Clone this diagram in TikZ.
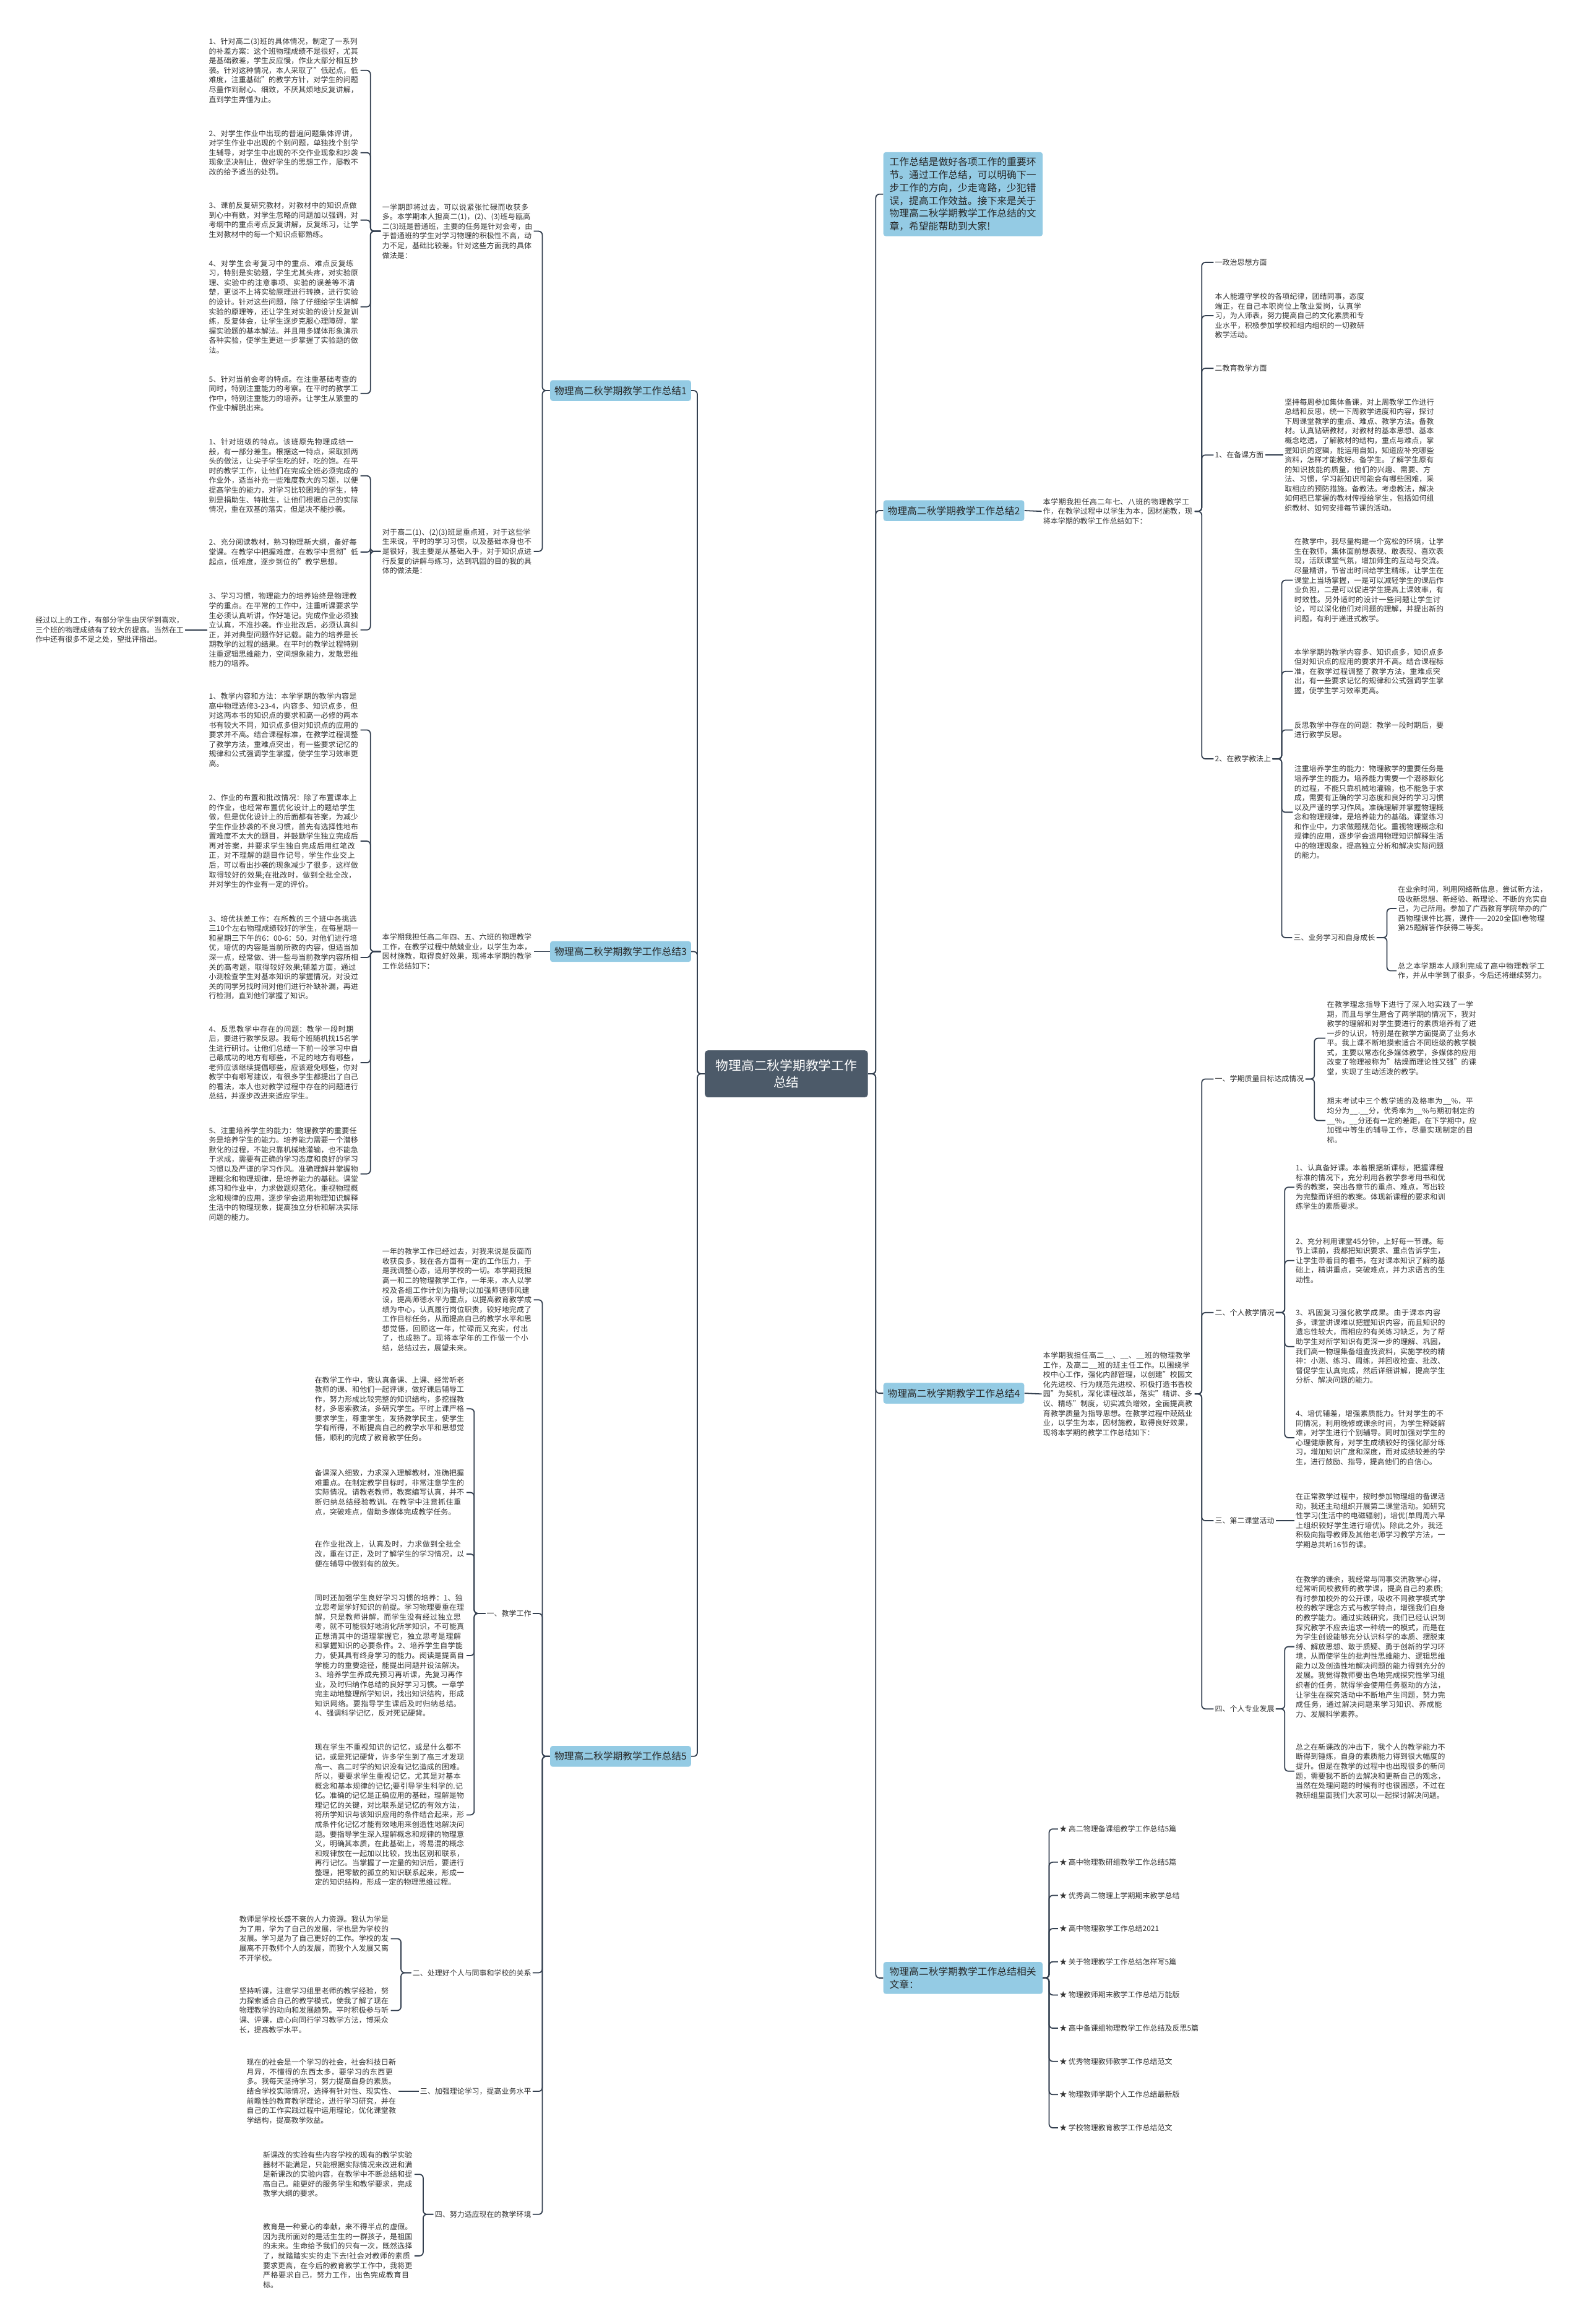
\documentclass[tikz,border=0pt]{standalone}
\usepackage{fontspec}
\setmainfont{Noto Sans CJK SC}
\XeTeXlinebreaklocale "zh"
\XeTeXlinebreakskip = 0pt plus 1pt
\definecolor{linec}{RGB}{52,64,80}
\definecolor{textc}{RGB}{51,51,51}
\definecolor{branchc}{RGB}{148,203,228}
\definecolor{rootc}{RGB}{76,90,105}
\tikzset{
  conn/.style={draw=linec, line width=0.9pt, rounded corners=3pt},
  txt/.style={inner xsep=1pt, inner ysep=1pt, text width=121.5pt, align=left, text=textc, font=\fontsize{6}{7.8}\selectfont},
  lbl/.style={inner sep=1pt, text=textc, font=\fontsize{6}{7.8}\selectfont},
  branch/.style={fill=branchc, rounded corners=2pt, inner xsep=3.5pt, inner ysep=2pt, minimum height=16.8pt, text=black!85, font=\fontsize{7.9}{10.5}\selectfont},
  bigbranch/.style={branch, text width=119pt, align=left, inner xsep=5pt, inner ysep=4pt},
  root/.style={fill=rootc, rounded corners=2.5pt, minimum width=132pt, minimum height=38pt, align=center, text=white, font=\fontsize{10.4}{13.3}\selectfont}
}
\begin{document}
\begin{tikzpicture}[x=1.2pt,y=-1.2pt]
  \fill[white] (0,0) rectangle (1069,1568);
  \useasboundingbox (0,0) rectangle (1069,1568);

  \node[root] (root) at (530.7,724.5) {物理高二秋学期教学工作\\总结};

  \node[branch, anchor=east] (b1) at (466.5,263.5) {物理高二秋学期教学工作总结1};
  \node[branch, anchor=east] (b3) at (466.5,642) {物理高二秋学期教学工作总结3};
  \node[branch, anchor=east] (b5) at (466.5,1185) {物理高二秋学期教学工作总结5};
  \node[bigbranch, anchor=west] (intro) at (596,131) {工作总结是做好各项工作的重要环节。通过工作总结，可以明确下一步工作的方向，少走弯路，少犯错误，提高工作效益。接下来是关于物理高二秋学期教学工作总结的文章，希望能帮助到大家!};
  \node[branch, anchor=west] (b2) at (596,344.5) {物理高二秋学期教学工作总结2};
  \node[branch, anchor=west] (b4) at (596,940) {物理高二秋学期教学工作总结4};
  \node[bigbranch, anchor=west] (rel) at (596,1334.5) {物理高二秋学期教学工作总结相关文章：};

  \coordinate (lt) at (470.6,0);
  \coordinate (rt) at (591,0);
  \foreach \n in {b1,b3,b5}
    \draw[conn] (root.west) -- (root.west -| lt) |- (\n.east);
  \foreach \n in {intro,b2,b4,rel}
    \draw[conn] (root.east) -- (root.east -| rt) |- (\n.west);

  \node[txt, anchor=west] (s1a) at (257,156) {一学期即将过去，可以说紧张忙碌而收获多多。本学期本人担高二(1)，(2)、(3)班与瓯高二(3)班是普通班，主要的任务是针对会考，由于普通班的学生对学习物理的积极性不高，动力不足，基础比较差。针对这些方面我的具体做法是：};
  \node[txt, anchor=west] (s1b) at (257,372) {对于高二(1)、(2)(3)班是重点班，对于这些学生来说，平时的学习习惯，以及基础本身也不是很好，我主要是从基础入手，对于知识点进行反复的讲解与练习，达到巩固的目的我的具体的做法是：};
  \node[txt, anchor=west] (s1a1) at (140,47.5) {1、针对高二(3)班的具体情况，制定了一系列的补差方案：这个班物理成绩不是很好，尤其是基础教差，学生反应慢，作业大部分相互抄袭。针对这种情况，本人采取了"低起点，低难度，注重基础"的教学方针，对学生的问题尽量作到耐心、细致，不厌其烦地反复讲解，直到学生弄懂为止。};
  \node[txt, anchor=west] (s1a2) at (140,103) {2、对学生作业中出现的普遍问题集体评讲，对学生作业中出现的个别问题，单独找个别学生辅导，对学生中出现的不交作业现象和抄袭现象坚决制止，做好学生的思想工作，屡教不改的给予适当的处罚。};
  \node[txt, anchor=west] (s1a3) at (140,148.5) {3、课前反复研究教材，对教材中的知识点做到心中有数，对学生忽略的问题加以强调，对考纲中的重点考点反复讲解，反复练习，让学生对教材中的每一个知识点都熟练。};
  \node[txt, anchor=west] (s1a4) at (140,207) {4、对学生会考复习中的重点、难点反复练习，特别是实验题，学生尤其头疼，对实验原理、实验中的注意事项、实验的误差等不清楚，更谈不上将实验原理进行转换，进行实验的设计。针对这些问题，除了仔细给学生讲解实验的原理等，还让学生对实验的设计反复训练，反复体会，让学生逐步克服心理障碍，掌握实验题的基本解法。并且用多媒体形象演示各种实验，使学生更进一步掌握了实验题的做法。};
  \node[txt, anchor=west] (s1a5) at (140,265.5) {5、针对当前会考的特点。在注重基础考查的同时，特别注重能力的考察。在平时的教学工作中，特别注重能力的培养。让学生从繁重的作业中解脱出来。};
  \node[txt, anchor=west] (s1b1) at (140,321) {1、针对班级的特点。该班原先物理成绩一般，有一部分差生。根据这一特点，采取抓两头的做法，让尖子学生吃的好，吃的饱。在平时的教学工作，让他们在完成全班必须完成的作业外，适当补充一些难度教大的习题，以便提高学生的能力，对学习比较困难的学生，特别是捐助生、特批生，让他们根据自己的实际情况，重在双基的落实，但是决不能抄袭。};
  \node[txt, anchor=west] (s1b2) at (140,372.5) {2、充分阅读教材，熟习物理新大纲，备好每堂课。在教学中把握难度，在教学中贯彻"低起点，低难度，逐步到位的"教学思想。};
  \node[txt, anchor=west] (s1b3) at (140,425) {3、学习习惯，物理能力的培养始终是物理教学的重点。在平常的工作中，注重听课要求学生必须认真听讲，作好笔记。完成作业必须独立认真，不准抄袭。作业批改后，必须认真纠正，并对典型问题作好记载。能力的培养是长期教学的过程的结果。在平时的教学过程特别注重逻辑思维能力，空间想象能力，发散思维能力的培养。};
  \node[txt, anchor=east, text width=120pt] (s1c) at ([xshift=-18pt]s1b3.west) {经过以上的工作，有部分学生由厌学到喜欢，三个班的物理成绩有了较大的提高。当然在工作中还有很多不足之处，望批评指出。};

  \coordinate (k1) at (366,0);
  \coordinate (k1a) at (250,0);
  \foreach \n in {s1a,s1b}
    \draw[conn] (b1.west) -- (b1.west -| k1) |- (\n.east);
  \foreach \n in {s1a1,s1a2,s1a3,s1a4,s1a5}
    \draw[conn] (s1a.west) -- (s1a.west -| k1a) |- (\n.east);
  \foreach \n in {s1b1,s1b2,s1b3}
    \draw[conn] (s1b.west) -- (s1b.west -| k1a) |- (\n.east);
  \draw[conn] (s1b3.west) -- (s1c.east);

  \node[txt, anchor=west] (s3) at (257,642) {本学期我担任高二年四、五、六班的物理教学工作，在教学过程中兢兢业业，以学生为本，因材施教，取得良好效果，现将本学期的教学工作总结如下：};
  \node[txt, anchor=west] (s3c1) at (140,492.5) {1、教学内容和方法：本学学期的教学内容是高中物理选修3-23-4，内容多、知识点多，但对这两本书的知识点的要求和高一必修的两本书有较大不同，知识点多但对知识点的应用的要求并不高。结合课程标准，在教学过程调整了教学方法，重难点突出，有一些要求记忆的规律和公式强调学生掌握，使学生学习效率更高。};
  \node[txt, anchor=west] (s3c2) at (140,567.5) {2、作业的布置和批改情况：除了布置课本上的作业，也经常布置优化设计上的题给学生做，但是优化设计上的后面都有答案，为减少学生作业抄袭的不良习惯，首先有选择性地布置难度不太大的题目，并鼓励学生独立完成后再对答案，并要求学生独自完成后用红笔改正，对不理解的题目作记号，学生作业交上后，可以看出抄袭的现象减少了很多，这样做取得较好的效果;在批改时，做到全批全改，并对学生的作业有一定的评价。};
  \node[txt, anchor=west] (s3c3) at (140,646) {3、培优扶差工作：在所教的三个班中各挑选三10个左右物理成绩较好的学生，在每星期一和星期三下午的6：00-6：50，对他们进行培优，培优的内容是当前所教的内容，但适当加深一点，经常做、讲一些与当前教学内容所相关的高考题，取得较好效果;辅差方面，通过小测检查学生对基本知识的掌握情况，对没过关的同学另找时间对他们进行补缺补漏，再进行检测，直到他们掌握了知识。};
  \node[txt, anchor=west] (s3c4) at (140,717) {4、反思教学中存在的问题：教学一段时期后，要进行教学反思。我每个班随机找15名学生进行研讨。让他们总结一下前一段学习中自己最成功的地方有哪些，不足的地方有哪些，老师应该继续提倡哪些，应该避免哪些，你对教学中有哪写建议，有很多学生都提出了自己的看法，本人也对教学过程中存在的问题进行总结，并逐步改进来适应学生。};
  \node[txt, anchor=west] (s3c5) at (140,792) {5、注重培养学生的能力：物理教学的重要任务是培养学生的能力。培养能力需要一个潜移默化的过程，不能只靠机械地灌输，也不能急于求成，需要有正确的学习态度和良好的学习习惯以及严谨的学习作风。准确理解并掌握物理概念和物理规律，是培养能力的基础。课堂练习和作业中，力求做题规范化。重视物理概念和规律的应用，逐步学会运用物理知识解释生活中的物理现象，提高独立分析和解决实际问题的能力。};
  \draw[conn] (b3.west) -- (s3.east);
  \foreach \n in {s3c1,s3c2,s3c3,s3c4,s3c5}
    \draw[conn] (s3.west) -- (s3.west -| k1a) |- (\n.east);

  \node[txt, anchor=west] (s5a) at (257,877) {一年的教学工作已经过去，对我来说是反面而收获良多，我在各方面有一定的工作压力，于是我调整心态，适用学校的一切。本学期我担高一和二的物理教学工作，一年来，本人以学校及各组工作计划为指导;以加强师德师风建设，提高师德水平为重点，以提高教育教学成绩为中心，认真履行岗位职责，较好地完成了工作目标任务，从而提高自己的教学水平和思想觉悟，回顾这一年，忙碌而又充实，付出了，也成熟了。现将本学年的工作做一个小结，总结过去，展望未来。};
  \node[lbl, anchor=east] (s5b) at (359.5,1088.6) {一、教学工作};
  \node[lbl, anchor=east] (s5c) at (359.5,1331) {二、处理好个人与同事和学校的关系};
  \node[lbl, anchor=east] (s5d) at (359.5,1411) {三、加强理论学习，提高业务水平};
  \node[lbl, anchor=east] (s5e) at (359.5,1494) {四、努力适应现在的教学环境};
  \node[txt, anchor=west] (t1) at (211.5,950.5) {在教学工作中，我认真备课、上课、经常听老教师的课、和他们一起评课，做好课后辅导工作，努力形成比较完整的知识结构，多挖掘教材，多思索教法，多研究学生。平时上课严格要求学生，尊重学生，发扬教学民主，使学生学有所得，不断提高自己的教学水平和思想觉悟，顺利的完成了教育教学任务。};
  \node[txt, anchor=west] (t2) at (211.5,1007) {备课深入细致，力求深入理解教材，准确把握难重点。在制定教学目标时，非常注意学生的实际情况。请教老教师，教案编写认真，并不断归纳总结经验教训。在教学中注意抓住重点，突破难点，借助多媒体完成教学任务。};
  \node[txt, anchor=west] (t3) at (211.5,1048.5) {在作业批改上，认真及时，力求做到全批全改，重在订正，及时了解学生的学习情况，以便在辅导中做到有的放矢。};
  \node[txt, anchor=west] (t4) at (211.5,1117) {同时还加强学生良好学习习惯的培养：1、独立思考是学好知识的前提。学习物理要重在理解，只是教师讲解，而学生没有经过独立思考，就不可能很好地消化所学知识，不可能真正想清其中的道理掌握它，独立思考是理解和掌握知识的必要条件。2、培养学生自学能力，使其具有终身学习的能力。阅读是提高自学能力的重要途径，能提出问题并设法解决。3、培养学生养成先预习再听课，先复习再作业，及时归纳作总结的良好学习习惯。一章学完主动地整理所学知识，找出知识结构，形成知识网络。要指导学生课后及时归纳总结。4、强调科学记忆，反对死记硬背。};
  \node[txt, anchor=west] (t5) at (211.5,1224.5) {现在学生不重视知识的记忆，或是什么都不记，或是死记硬背，许多学生到了高三才发现高一、高二时学的知识没有记忆造成的困难。所以，要要求学生重视记忆，尤其是对基本概念和基本规律的记忆;要引导学生科学的.记忆。准确的记忆是正确应用的基础，理解是物理记忆的关键，对比联系是记忆的有效方法，将所学知识与该知识应用的条件结合起来，形成条件化记忆才能有效地用来创造性地解决问题。要指导学生深入理解概念和规律的物理意义，明确其本质，在此基础上，将易混的概念和规律放在一起加以比较，找出区别和联系，再行记忆。当掌握了一定量的知识后，要进行整理，把零散的孤立的知识联系起来，形成一定的知识结构，形成一定的物理思维过程。};
  \node[txt, anchor=west] (u1) at (160.5,1308) {教师是学校长盛不衰的人力资源。我认为学是为了用，学为了自己的发展，学也是为学校的发展。学习是为了自己更好的工作。学校的发展离不开教师个人的发展，而我个人发展又离不开学校。};
  \node[txt, anchor=west] (u2) at (160.5,1356.5) {坚持听课，注意学习组里老师的教学经验，努力探索适合自己的教学模式，使我了解了现在物理教学的动向和发展趋势。平时积极参与听课、评课，虚心向同行学习教学方法，博采众长，提高教学水平。};
  \node[txt, anchor=west] (v1) at (165.5,1411) {现在的社会是一个学习的社会，社会科技日新月异，不懂得的东西太多，要学习的东西更多。我每天坚持学习，努力提高自身的素质。结合学校实际情况，选择有针对性、现实性、前瞻性的教育教学理论，进行学习研究，并在自己的工作实践过程中运用理论，优化课堂教学结构，提高教学效益。};
  \node[txt, anchor=west] (w1) at (176.5,1467) {新课改的实验有些内容学校的现有的教学实验器材不能满足，只能根据实际情况来改进和满足新课改的实验内容，在教学中不断总结和提高自己。能更好的服务学生和教学要求，完成教学大纲的要求。};
  \node[txt, anchor=west] (w2) at (176.5,1522) {教育是一种爱心的奉献，来不得半点的虚假。因为我所面对的是活生生的一群孩子，是祖国的未来。生命给予我们的只有一次，既然选择了，就踏踏实实的走下去!社会对教师的素质要求更高，在今后的教育教学工作中，我将更严格要求自己，努力工作，出色完成教育目标。};

  \coordinate (k5b) at (320,0);
  \coordinate (k5c) at (270.6,0);
  \coordinate (k5e) at (285.6,0);
  \foreach \n in {s5a,s5b,s5c,s5d,s5e}
    \draw[conn] (b5.west) -- (b5.west -| k1) |- (\n.east);
  \foreach \n in {t1,t2,t3,t4,t5}
    \draw[conn] (s5b.west) -- (s5b.west -| k5b) |- (\n.east);
  \foreach \n in {u1,u2}
    \draw[conn] (s5c.west) -- (s5c.west -| k5c) |- (\n.east);
  \draw[conn] (s5d.west) -- (v1.east);
  \foreach \n in {w1,w2}
    \draw[conn] (s5e.west) -- (s5e.west -| k5e) |- (\n.east);

  \node[txt, anchor=west] (s2) at (703,345) {本学期我担任高二年七、八班的物理教学工作，在教学过程中以学生为本，因材施教，现将本学期的教学工作总结如下：};
  \node[lbl, anchor=west] (p1) at (819,177) {一政治思想方面};
  \node[txt, anchor=west] (p2) at (819,213) {本人能遵守学校的各项纪律，团结同事，态度端正，在自己本职岗位上敬业爱岗，认真学习，为人师表，努力提高自己的文化素质和专业水平，积极参加学校和组内组织的一切教研教学活动。};
  \node[lbl, anchor=west] (p3) at (819,248.5) {二教育教学方面};
  \node[lbl, anchor=west] (p4) at (819,307) {1、在备课方面};
  \node[lbl, anchor=west] (p5) at (819,512) {2、在教学教法上};
  \node[txt, anchor=west] (x1) at (866,307) {坚持每周参加集体备课，对上周教学工作进行总结和反思，统一下周教学进度和内容，探讨下周课堂教学的重点、难点、教学方法。备教材。认真钻研教材，对教材的基本思想、基本概念吃透，了解教材的结构，重点与难点，掌握知识的逻辑，能运用自如，知道应补充哪些资料，怎样才能教好。备学生。了解学生原有的知识技能的质量，他们的兴趣、需要、方法、习惯，学习新知识可能会有哪些困难，采取相应的预防措施。备教法。考虑教法，解决如何把已掌握的教材传授给学生，包括如何组织教材、如何安排每节课的活动。};
  \node[txt, anchor=west] (q1) at (872.5,391.5) {在教学中，我尽量构建一个宽松的环境，让学生在教师，集体面前想表现、敢表现、喜欢表现，活跃课堂气氛，增加师生的互动与交流。尽量精讲，节省出时间给学生精练，让学生在课堂上当场掌握，一是可以减轻学生的课后作业负担，二是可以促进学生提高上课效率，有时效性。另外适时的设计一些问题让学生讨论，可以深化他们对问题的理解，并提出新的问题，有利于递进式教学。};
  \node[txt, anchor=west] (q2) at (872.5,453) {本学学期的教学内容多、知识点多，知识点多但对知识点的应用的要求并不高。结合课程标准，在教学过程调整了教学方法，重难点突出，有一些要求记忆的规律和公式强调学生掌握，使学生学习效率更高。};
  \node[txt, anchor=west] (q3) at (872.5,492.5) {反思教学中存在的问题：教学一段时期后，要进行教学反思。};
  \node[txt, anchor=west] (q4) at (872.5,548) {注重培养学生的能力：物理教学的重要任务是培养学生的能力。培养能力需要一个潜移默化的过程，不能只靠机械地灌输，也不能急于求成，需要有正确的学习态度和良好的学习习惯以及严谨的学习作风。准确理解并掌握物理概念和物理规律，是培养能力的基础。课堂练习和作业中，力求做题规范化。重视物理概念和规律的应用，逐步学会运用物理知识解释生活中的物理现象，提高独立分析和解决实际问题的能力。};
  \node[lbl, anchor=west] (q5) at (872,632.6) {三、业务学习和自身成长};
  \node[txt, anchor=west] (r1) at (942.5,613) {在业余时间，利用网络新信息，尝试新方法，吸收新思想、新经验、新理论、不断的充实自己，为己所用。参加了广西教育学院举办的广西物理课件比赛，课件——2020全国I卷物理第25题解答作获得二等奖。};
  \node[txt, anchor=west] (r2) at (942.5,655) {总之本学期本人顺利完成了高中物理教学工作，并从中学到了很多，今后还将继续努力。};

  \coordinate (k2) at (811,0);
  \coordinate (k2e) at (865,0);
  \coordinate (k2f) at (936,0);
  \draw[conn] (b2.east) -- (s2.west);
  \foreach \n in {p1,p2,p3,p4,p5}
    \draw[conn] (s2.east) -- (s2.east -| k2) |- (\n.west);
  \draw[conn] (p4.east) -- (x1.west);
  \foreach \n in {q1,q2,q3,q4,q5}
    \draw[conn] (p5.east) -- (p5.east -| k2e) |- (\n.west);
  \foreach \n in {r1,r2}
    \draw[conn] (q5.east) -- (q5.east -| k2f) |- (\n.west);

  \node[txt, anchor=west] (s4) at (703,940.5) {本学期我担任高二\_\_、\_\_、\_\_班的物理教学工作，及高二\_\_班的班主任工作。以围绕学校中心工作，强化内部管理，以创建"校园文化先进校、行为规范先进校、积极打造书香校园"为契机，深化课程改革，落实"精讲、多议、精练"制度，切实减负增效，全面提高教育教学质量为指导思想。在教学过程中兢兢业业，以学生为本，因材施教，取得良好效果，现将本学期的教学工作总结如下：};
  \node[lbl, anchor=west] (g1) at (819,728) {一、学期质量目标达成情况};
  \node[lbl, anchor=west] (g2) at (819,885.6) {二、个人教学情况};
  \node[lbl, anchor=west] (g3) at (819,1026) {三、第二课堂活动};
  \node[lbl, anchor=west] (g4) at (819,1153) {四、个人专业发展};
  \node[txt, anchor=west] (h1) at (894.5,700.5) {在教学理念指导下进行了深入地实践了一学期，而且与学生磨合了两学期的情况下，我对教学的理解和对学生要进行的素质培养有了进一步的认识，特别是在教学方面提高了业务水平。我上课不断地摸索适合不同班级的教学模式，主要以常态化多媒体教学，多媒体的应用改变了物理被称为"枯燥而理论性又强"的课堂，实现了生动活泼的教学。};
  \node[txt, anchor=west] (h2) at (894.5,756) {期末考试中三个教学班的及格率为\_\_\%，平均分为\_\_.\_\_分，优秀率为\_\_\%与期初制定的\_\_\%，\_\_分还有一定的差距，在下学期中，应加强中等生的辅导工作，尽量实现制定的目标。};
  \node[txt, anchor=west] (i1) at (873.5,801) {1、认真备好课。本着根据新课标，把握课程标准的情况下，充分利用各教学参考用书和优秀的教案，突出各章节的重点、难点，写出较为完整而详细的教案。体现新课程的要求和训练学生的素质要求。};
  \node[txt, anchor=west] (i2) at (873.5,850.5) {2、充分利用课堂45分钟，上好每一节课。每节上课前，我都把知识要求、重点告诉学生，让学生带着目的看书，在对课本知识了解的基础上，精讲重点，突破难点，并力求语言的生动性。};
  \node[txt, anchor=west] (i3) at (873.5,908.5) {3、巩固复习强化教学成果。由于课本内容多，课堂讲课难以把握知识内容，而且知识的遗忘性较大，而相应的有关练习缺乏，为了帮助学生对所学知识有更深一步的理解、巩固，我们高一物理集备组查找资料，实施学校的精神：小测、练习、周练，并回收检查、批改、督促学生认真完成，然后详细讲解，提高学生分析、解决问题的能力。};
  \node[txt, anchor=west] (i4) at (873.5,970) {4、培优辅差，增强素质能力。针对学生的不同情况，利用晚修或课余时间，为学生释疑解难，对学生进行个别辅导。同时加强对学生的心理健康教育，对学生成绩较好的强化部分练习，增加知识广度和深度，而对成绩较差的学生，进行鼓励、指导，提高他们的自信心。};
  \node[txt, anchor=west] (j1) at (873.5,1026) {在正常教学过程中，按时参加物理组的备课活动，我还主动组织开展第二课堂活动。如研究性学习(生活中的电磁辐射)，培优(单周周六早上组织较好学生进行培优)。除此之外，我还积极向指导教师及其他老师学习教学方法，一学期总共听16节的课。};
  \node[txt, anchor=west] (m1) at (873.5,1111) {在教学的课余，我经常与同事交流教学心得，经常听同校教师的教学课，提高自己的素质;有时参加校外的公开课，吸收不同教学模式学校的教学理念方式与教学特点，增强我们自身的教学能力。通过实践研究，我们已经认识到探究教学不应去追求一种统一的模式，而是在为学生创设能够充分认识科学的本质、摆脱束缚、解放思想、敢于质疑、勇于创新的学习环境，从而使学生的批判性思维能力、逻辑思维能力以及创造性地解决问题的能力得到充分的发展。我觉得教师要出色地完成探究性学习组织者的任务，就得学会使用任务驱动的方法，让学生在探究活动中不断地产生问题，努力完成任务，通过解决问题来学习知识、养成能力、发展科学素养。};
  \node[txt, anchor=west] (m2) at (873.5,1195) {总之在新课改的冲击下，我个人的教学能力不断得到锤炼，自身的素质能力得到很大幅度的提升。但是在教学的过程中也出现很多的新问题，需要我不断的去解决和更新自己的观念，当然在处理问题的时候有时也很困惑，不过在教研组里面我们大家可以一起探讨解决问题。};

  \coordinate (k4a) at (887,0);
  \coordinate (k4b) at (867,0);
  \draw[conn] (b4.east) -- (s4.west);
  \foreach \n in {g1,g2,g3,g4}
    \draw[conn] (s4.east) -- (s4.east -| k2) |- (\n.west);
  \foreach \n in {h1,h2}
    \draw[conn] (g1.east) -- (g1.east -| k4a) |- (\n.west);
  \foreach \n in {i1,i2,i3,i4}
    \draw[conn] (g2.east) -- (g2.east -| k4b) |- (\n.west);
  \draw[conn] (g3.east) -- (j1.west);
  \foreach \n in {m1,m2}
    \draw[conn] (g4.east) -- (g4.east -| k4b) |- (\n.west);

  \foreach \t [count=\i] in {高二物理备课组教学工作总结5篇,高中物理教研组教学工作总结5篇,优秀高二物理上学期期末教学总结,高中物理教学工作总结2021,关于物理教学工作总结怎样写5篇,物理教师期末教学工作总结万能版,高中备课组物理教学工作总结及反思5篇,优秀物理教师教学工作总结范文,物理教师学期个人工作总结最新版,学校物理教育教学工作总结范文}
    \node[lbl, anchor=west] (a\i) at (714,1211.6+22.4*\i) {★ \t};
  \coordinate (kr) at (708,0);
  \foreach \i in {1,...,10}
    \draw[conn] (rel.east) -- (rel.east -| kr) |- (a\i.west);
\end{tikzpicture}
\end{document}
